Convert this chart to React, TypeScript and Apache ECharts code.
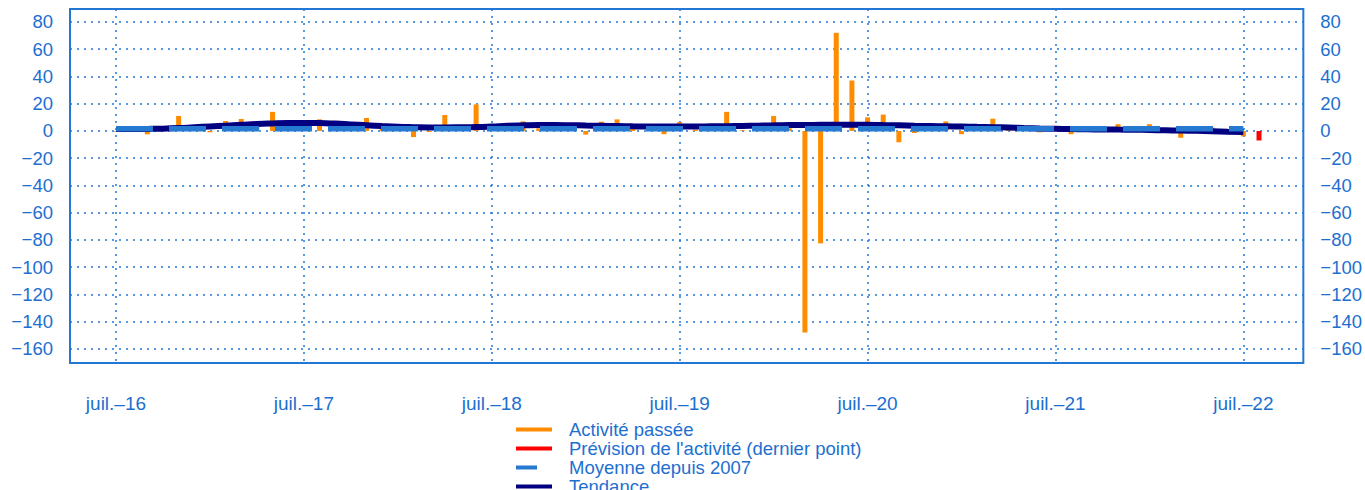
import React, { useEffect, useRef } from "react";
import * as echarts from "echarts";

// Mois indexés depuis juillet 2016 (0 = juil. 2016)
const activitePassee = [
  -0.5, 1.5, -2.5, 2, 11, 3, -1, 7.3, 8.8, 3, 14, 4,
  2, 8.5, 3, 2, 9.5, 2, 3, -4.5, -0.8, 11.7, 2, 19.5,
  1, 1, 7, 2, 1, 2, -2.7, 6.8, 8.5, 2, 1, -2.4,
  6.5, 1, 2, 14, 0.5, 2, 11, 2, -148, -82.5, 72, 37,
  10, 12, -8.3, -1.5, 2, 7, -2.4, 4, 9, 1, 3, -1,
  2, -2.4, 1, 2, 5, 2, 5, 2, -5, -1, 2.5, 1,
  -4,
];
const previsionMonth = [73];
const previsionActivite = [-7];
const tendance = [
  1.5, 1.4, 1.5, 1.7, 2.1, 2.7, 3.3, 3.9, 4.5, 5.1, 5.5, 5.8,
  5.9, 5.8, 5.4, 4.8, 4.2, 3.6, 3.1, 2.8, 2.6, 2.6, 2.7, 2.9,
  3.3, 3.8, 4.1, 4.3, 4.3, 4.2, 4.0, 3.8, 3.6, 3.4, 3.3, 3.3,
  3.3, 3.3, 3.4, 3.5, 3.7, 3.9, 4.1, 4.3, 4.4, 4.5, 4.6, 4.6,
  4.5, 4.3, 4.1, 3.8, 3.6, 3.4, 3.2, 3.0, 2.8, 2.5, 2.1, 1.8,
  1.6, 1.4, 1.2, 1.1, 1.0, 0.9, 0.7, 0.5, 0.3, 0.1, -0.2, -0.5,
  -0.7,
];
const moyenneDepuis2007 = 1.6;
const moyenneSpan = [0, 72];
const xTickMonths = [0, 12, 24, 36, 48, 60, 72];
const xTickLabels = ["juil.–16", "juil.–17", "juil.–18", "juil.–19", "juil.–20", "juil.–21", "juil.–22"];
const yTicks = [80, 60, 40, 20, 0, -20, -40, -60, -80, -100, -120, -140, -160];
const legendNames = [
  "Activité passée",
  "Prévision de l'activité (dernier point)",
  "Moyenne depuis 2007",
  "Tendance",
];

const FONT = "'Liberation Sans', Arial, sans-serif";
const TEXT_BLUE = "#1d6fcf";
const LINE_BLUE = "#2277d4";
const ORANGE = "#ff8c00";
const RED = "#ff0000";
const DASH_BLUE = "#2679d0";
const NAVY = "#000080";

const fmtY = (v: number) => (v < 0 ? "\u2212" + Math.abs(v) : String(v));

export default function App() {
  const ref = useRef<HTMLDivElement>(null);
  useEffect(() => {
    if (!ref.current) return;
    const chart = echarts.init(ref.current, undefined, { renderer: "svg" });
    const dotted = { type: [2, 5] as number[], color: LINE_BLUE, width: 1.5 };
    const yAxisBase = {
      type: "value" as const,
      min: -170.3,
      max: 89.5,
      axisLine: { show: false },
      axisTick: { show: false, customValues: yTicks },
      axisLabel: {
        customValues: yTicks,
        formatter: fmtY,
        color: TEXT_BLUE,
        fontSize: 18.5,
        fontFamily: FONT,
        margin: 17,
      },
    };
    chart.setOption({
      animation: false,
      grid: {
        left: 70,
        right: 61,
        top: 9,
        bottom: 127,
        show: true,
        borderColor: LINE_BLUE,
        borderWidth: 2,
        backgroundColor: "transparent",
      },
      xAxis: {
        type: "value",
        min: -2.936,
        max: 75.83,
        axisLine: { show: false },
        axisTick: { show: false, customValues: xTickMonths },
        axisLabel: {
          customValues: xTickMonths,
          formatter: (v: number) => xTickLabels[xTickMonths.indexOf(Math.round(v))] ?? "",
          color: TEXT_BLUE,
          fontSize: 19,
          fontFamily: FONT,
          margin: 31,
        },
        splitLine: { show: true, lineStyle: dotted },
      },
      yAxis: [
        { ...yAxisBase, position: "left", splitLine: { show: true, lineStyle: dotted } },
        { ...yAxisBase, position: "right", splitLine: { show: false } },
      ],
      legend: {
        orient: "vertical",
        left: 516,
        top: 420,
        height: 120,
        padding: 0,
        itemWidth: 36,
        itemHeight: 4,
        itemGap: 0,
        itemStyle: { borderWidth: 0 },
        textStyle: {
          color: TEXT_BLUE,
          fontSize: 18.5,
          fontFamily: FONT,
          lineHeight: 18,
          padding: [0, 0, 0, 12],
        },
        data: [
          { name: legendNames[0], icon: "rect", itemStyle: { color: ORANGE, borderWidth: 0 } },
          { name: legendNames[1], icon: "rect", itemStyle: { color: RED, borderWidth: 0 } },
          { name: legendNames[2], icon: "path://M0,0H21V4H0ZM36,0L36,4", itemStyle: { color: DASH_BLUE, borderWidth: 0 } },
          { name: legendNames[3], icon: "rect", itemStyle: { color: NAVY, borderWidth: 0 } },
        ],
      },
      series: [
        {
          name: legendNames[0],
          type: "bar",
          barWidth: 5,
          barGap: "-100%",
          itemStyle: { color: ORANGE },
          data: activitePassee.map((v, i) => [i, v]),
          z: 2,
        },
        {
          name: legendNames[1],
          type: "bar",
          barWidth: 5,
          barGap: "-100%",
          itemStyle: { color: RED },
          data: previsionActivite.map((v, i) => [previsionMonth[i], v]),
          z: 2,
        },
        {
          name: legendNames[3],
          type: "line",
          smooth: true,
          symbol: "none",
          lineStyle: { color: NAVY, width: 6 },
          itemStyle: { color: NAVY },
          data: tendance.map((v, i) => [i, v]),
          z: 3,
        },
        {
          name: legendNames[2],
          type: "line",
          symbol: "none",
          lineStyle: { color: DASH_BLUE, width: 5.5, type: [37, 16], cap: "butt" },
          itemStyle: { color: DASH_BLUE },
          data: moyenneSpan.map((m) => [m, moyenneDepuis2007]),
          z: 4,
        },
      ],
    });
    return () => chart.dispose();
  }, []);
  return (
    <div
      ref={ref}
      style={{ position: "absolute", left: 0, top: 0, width: 1365, height: 490 }}
    />
  );
}
